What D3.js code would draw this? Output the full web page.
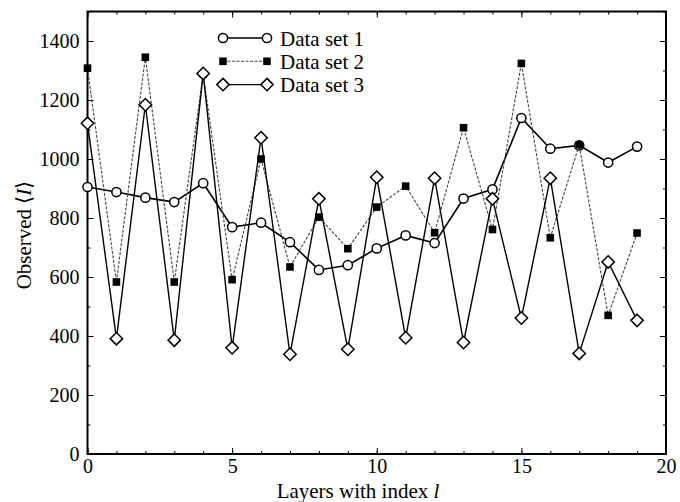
<!DOCTYPE html>
<html>
<head>
<meta charset="utf-8">
<script src="https://cdn.jsdelivr.net/npm/d3@7"></script>
<style>
  html, body { margin: 0; padding: 0; background: #fff; }
  svg { display: block; }
  text { font-family: "Liberation Serif", "Times New Roman", serif; fill: #000; }
</style>
</head>
<body>
<svg id="chart" width="680" height="502"></svg>
<script>
// ---- data ----
const layers = [0,1,2,3,4,5,6,7,8,9,10,11,12,13,14,15,16,17,18,19];
const set1 = [905, 888, 869, 854, 918, 769, 784, 718, 624, 640, 697, 741, 715, 866, 897, 1139, 1035, 1046, 988, 1042];
const set2 = [1308, 583, 1345, 583, 1288, 591, 1000, 634, 803, 696, 837, 908, 750, 1106, 761, 1324, 733, 1048, 470, 749];
const set3 = [1121, 391, 1184, 386, 1290, 360, 1072, 338, 865, 355, 938, 394, 935, 378, 865, 461, 935, 341, 651, 453];
const seriesNames = ["Data set 1", "Data set 2", "Data set 3"];
const xTickLabels = [0, 5, 10, 15, 20];
const yTickLabels = [0, 200, 400, 600, 800, 1000, 1200, 1400];

// ---- layout ----
const svg = d3.select("#chart");
const mLeft = 87.5, mRight = 666, mTop = 11.5, mBottom = 454;
const fs = "21px", tickFs = "20px";
const x = d3.scaleLinear().domain([0, 20]).range([mLeft, mRight]);
const y = d3.scaleLinear().domain([0, 1500]).range([mBottom, mTop]);

const styles = [
  { stroke: "#000", width: 1.6, dash: null, marker: "circle" },
  { stroke: "#444", width: 1.1, dash: "3,1.5", marker: "square" },
  { stroke: "#000", width: 1.4, dash: null, marker: "diamond" }
];

// ---- axes (ticks inward, all four sides) ----
const tickLen = 6, minorLen = 3;
function addAxis(axis, transform) {
  const g = svg.append("g").attr("transform", transform).call(axis);
  g.select(".domain").remove();
  g.selectAll("line").attr("stroke", "#000").attr("stroke-width", 1);
  return g;
}
// minor ticks
addAxis(d3.axisBottom(x).tickValues(d3.range(0, 21, 1)).tickSize(-minorLen).tickFormat(""), `translate(0,${mBottom})`);
addAxis(d3.axisTop(x).tickValues(d3.range(0, 21, 1)).tickSize(-minorLen).tickFormat(""), `translate(0,${mTop})`);
addAxis(d3.axisLeft(y).tickValues(d3.range(0, 1501, 100)).tickSize(-minorLen).tickFormat(""), `translate(${mLeft},0)`);
addAxis(d3.axisRight(y).tickValues(d3.range(0, 1501, 100)).tickSize(-minorLen).tickFormat(""), `translate(${mRight},0)`);
// major ticks
const xb = addAxis(d3.axisBottom(x).tickValues(xTickLabels).tickSize(-tickLen).tickPadding(5).tickFormat(d3.format("d")), `translate(0,${mBottom})`);
addAxis(d3.axisTop(x).tickValues(xTickLabels).tickSize(-tickLen).tickFormat(""), `translate(0,${mTop})`);
const yl = addAxis(d3.axisLeft(y).tickValues(yTickLabels).tickSize(-tickLen).tickPadding(8).tickFormat(d3.format("d")), `translate(${mLeft},0)`);
addAxis(d3.axisRight(y).tickValues(yTickLabels).tickSize(-tickLen).tickFormat(""), `translate(${mRight},0)`);
xb.selectAll("text").style("font-size", tickFs).attr("font-family", "Liberation Serif").attr("fill", "#000");
yl.selectAll("text").style("font-size", tickFs).attr("font-family", "Liberation Serif").attr("fill", "#000");

// frame
svg.append("rect").attr("x", mLeft).attr("y", mTop).attr("width", mRight - mLeft).attr("height", mBottom - mTop)
  .attr("fill", "none").attr("stroke", "#000").attr("stroke-width", 2);

// ---- series ----
const allSets = [set1, set2, set3];
const line = d3.line().x((d, i) => x(layers[i])).y(d => y(d));

function drawMarker(g, type, cx, cy) {
  if (type === "circle") {
    g.append("circle").attr("cx", cx).attr("cy", cy).attr("r", 4.6)
      .attr("fill", "#fff").attr("stroke", "#000").attr("stroke-width", 1.5);
  } else if (type === "square") {
    g.append("rect").attr("x", cx - 3.8).attr("y", cy - 3.8).attr("width", 7.6).attr("height", 7.6)
      .attr("fill", "#000");
  } else {
    const s = 6.2;
    g.append("path").attr("d", `M${cx},${cy - s}L${cx + s},${cy}L${cx},${cy + s}L${cx - s},${cy}Z`)
      .attr("fill", "#fff").attr("stroke", "#000").attr("stroke-width", 1.5);
  }
}

allSets.forEach((vals, k) => {
  const st = styles[k];
  const g = svg.append("g");
  g.append("path").datum(vals).attr("d", line).attr("fill", "none")
    .attr("stroke", st.stroke).attr("stroke-width", st.width)
    .attr("stroke-dasharray", st.dash);
  vals.forEach((v, i) => drawMarker(g, st.marker, x(layers[i]), y(v)));
});

// ---- legend ----
const legX1 = 223, legX2 = 267, legTextX = 280, legY0 = 38, legDy = 23.3;
seriesNames.forEach((name, k) => {
  const st = styles[k];
  const g = svg.append("g");
  const ly = legY0 + k * legDy;
  g.append("line").attr("x1", legX1).attr("x2", legX2).attr("y1", ly).attr("y2", ly)
    .attr("stroke", st.stroke).attr("stroke-width", st.width).attr("stroke-dasharray", st.dash);
  drawMarker(g, st.marker, legX1, ly);
  drawMarker(g, st.marker, legX2, ly);
  g.append("text").attr("x", legTextX).attr("y", ly + 7.5).style("font-size", fs).text(name);
});

// ---- axis titles ----
const xt = svg.append("text").attr("x", 358).attr("y", 497.5)
  .attr("text-anchor", "middle").style("font-size", fs);
xt.append("tspan").text("Layers with index ");
xt.append("tspan").attr("font-style", "italic").text("l");

const yt = svg.append("text").attr("transform", `translate(31,235) rotate(-90)`)
  .attr("text-anchor", "middle").style("font-size", fs);
yt.append("tspan").text("Observed \u27E8");
yt.append("tspan").attr("font-style", "italic").text("I");
yt.append("tspan").text("\u27E9");
</script>
</body>
</html>
